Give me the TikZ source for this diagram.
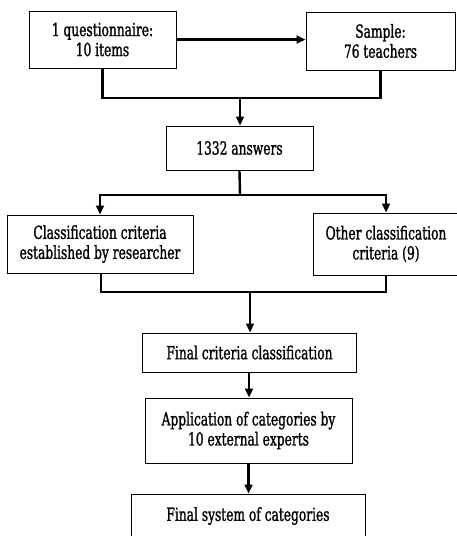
\documentclass[tikz,border=0pt]{standalone}
\usepackage{fontspec}
\setmainfont{DejaVu Serif}[FakeStretch=0.68,FakeBold=1.2]
\usetikzlibrary{arrows.meta}
\tikzset{
  box/.style={draw, line width=1pt, align=center, inner sep=2pt,
    font=\fontsize{18}{20}\selectfont},
  link/.style={line width=2.4pt},
  flow/.style={link, -{Triangle[length=9pt,width=8pt]}}
}
\begin{document}
\begin{tikzpicture}[x=1pt,y=-1pt]
\useasboundingbox (0,0) rectangle (457,536);
\clip (0,0) rectangle (457,536);

% boxes
\node[box, minimum width=147, minimum height=57] (quest) at (102.5,39.5) {1 questionnaire:\\10 items};
\node[box, minimum width=149, minimum height=58] (sample) at (380.5,41) {Sample:\\76 teachers};
\node[box, minimum width=147, minimum height=44] (answers) at (239.5,148) {1332 answers};
\node[box, minimum width=186, minimum height=58] (res) at (100,244) {Classification criteria\\established by researcher};
\node[box, minimum width=146, minimum height=62] (other) at (386,244) {Other classification\\criteria (9)};
\node[box, minimum width=214, minimum height=39] (final) at (249.5,352.5) {Final criteria classification};
\node[box, minimum width=207, minimum height=65] (experts) at (248.5,430.5) {Application of categories by\\10 external experts};
\node[box, minimum width=234, minimum height=44] (system) at (248,516) {Final system of categories};

% junction points
\coordinate (j1) at (240,98);
\coordinate (j2) at (240,195);
\coordinate (j3) at (250,292);

% questionnaire to sample
\draw[flow] (quest.east) -- (quest.east -| sample.west);

% questionnaire and sample merge into answers
\draw[link] (quest.south) |- (j1) -| (sample.south);
\draw[flow] (j1) -- (j1 |- answers.north);

% answers split into the two criteria sets
\draw[link] (answers.south) -- (j2);
\draw[flow] (j2) -| (res.north);
\draw[flow] (j2) -| (other.north);

% criteria sets merge into final classification
\draw[link] ([xshift=1pt]res.south) |- (j3) -| (other.south);
\draw[flow] (j3) -- (j3 |- final.north);

% remaining chain
\draw[flow] (final.south -| 249,0) -- (249,0 |- experts.north);
\draw[flow] (experts.south) -- (experts.south |- system.north);
\end{tikzpicture}
\end{document}
